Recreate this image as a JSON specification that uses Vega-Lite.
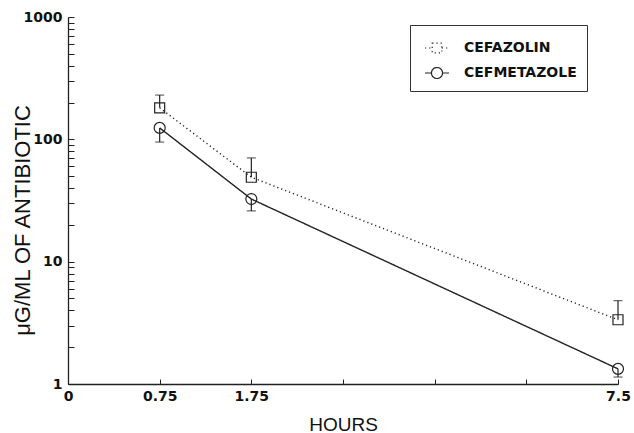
{
  "$schema": "https://vega.github.io/schema/vega-lite/v6.json",
  "width": 550,
  "height": 367,
  "autosize": {"type": "none"},
  "padding": {"left": 68, "top": 17, "right": 16, "bottom": 49},
  "background": "white",
  "config": {
    "view": {"stroke": null},
    "axis": {
      "grid": false,
      "domainColor": "#222",
      "domainWidth": 1.3,
      "tickColor": "#222",
      "tickWidth": 1,
      "labelFont": "DejaVu Sans",
      "labelFontWeight": "bold",
      "labelFontSize": 14,
      "labelColor": "#111",
      "titleFont": "Liberation Sans",
      "titleFontWeight": "normal",
      "titleColor": "#111"
    },
    "legend": {
      "title": null,
      "orient": "none",
      "legendX": 342,
      "legendY": 8,
      "strokeColor": "#333",
      "fillColor": "white",
      "padding": 10,
      "symbolSize": 576,
      "symbolStrokeColor": "#222",
      "symbolStrokeWidth": 1.2,
      "symbolFillColor": "transparent",
      "symbolOffset": 4,
      "labelFont": "DejaVu Sans",
      "labelFontWeight": "bold",
      "labelFontSize": 14,
      "labelColor": "#111",
      "labelOffset": 14,
      "rowPadding": 4
    }
  },
  "data": {
    "values": [
      {"drug": "CEFAZOLIN", "hours": 0.75, "mean": 181, "err": 230},
      {"drug": "CEFAZOLIN", "hours": 1.75, "mean": 49, "err": 70.5},
      {"drug": "CEFAZOLIN", "hours": 7.5, "mean": 3.35, "err": 4.8},
      {"drug": "CEFMETAZOLE", "hours": 0.75, "mean": 124, "err": 95},
      {"drug": "CEFMETAZOLE", "hours": 1.75, "mean": 32.5, "err": 26},
      {"drug": "CEFMETAZOLE", "hours": 7.5, "mean": 1.33, "err": 1.14}
    ]
  },
  "encoding": {
    "x": {
      "field": "hours",
      "type": "quantitative",
      "scale": {"domain": [0, 0.75, 1.75, 7.5], "range": [0, 91.67, 183.33, 550], "zero": false, "nice": false},
      "axis": {
        "title": "HOURS",
        "titleFontSize": 19,
        "titleY": 40,
        "titleBaseline": "middle",
        "values": [0, 0.75, 1.75, 3.1875, 4.625, 6.0625, 7.5],
        "format": ".2~f",
        "labelExpr": "indexof([0, 0.75, 1.75, 7.5], datum.value) >= 0 ? datum.label : ''",
        "tickSize": -5,
        "labelPadding": 10,
        "labelFlush": false
      }
    },
    "y": {
      "field": "mean",
      "type": "quantitative",
      "scale": {"type": "log", "domain": [1, 1000], "nice": false},
      "axis": {
        "title": "μG/ML OF ANTIBIOTIC",
        "titleFontSize": 22,
        "titleX": -46,
        "titleY": 203,
        "titleAngle": -90,
        "titleAlign": "center",
        "titleBaseline": "middle",
        "values": [1, 2, 3, 4, 5, 6, 7, 8, 9, 10, 20, 30, 40, 50, 60, 70, 80, 90, 100, 200, 300, 400, 500, 600, 700, 800, 900, 1000],
        "labelExpr": "indexof([1, 10, 100, 1000], datum.value) >= 0 ? datum.label : ''",
        "format": "d",
        "tickSize": -6,
        "labelPadding": 12,
        "labelFlush": false
      }
    }
  },
  "layer": [
    {
      "mark": {"type": "line", "color": "#222", "strokeWidth": 1.4},
      "encoding": {
        "strokeDash": {
          "field": "drug",
          "type": "nominal",
          "scale": {"domain": ["CEFAZOLIN", "CEFMETAZOLE"], "range": [[1.2, 3], [1, 0]]}
        }
      }
    },
    {
      "transform": [{"filter": "false"}],
      "mark": {"type": "point", "filled": false, "color": "#222", "strokeWidth": 1.2, "opacity": 1},
      "encoding": {
        "shape": {
          "field": "drug",
          "type": "nominal",
          "scale": {"domain": ["CEFAZOLIN", "CEFMETAZOLE"], "range": ["M-1,0H-0.4M0.4,0H1M-0.4,-0.4H0.4V0.4H-0.4Z", "M-1,0H-0.46A0.46,0.46,0,1,1,0.46,0A0.46,0.46,0,1,1,-0.46,0M0.46,0H1"]}
        },
        "strokeDash": {"field": "drug", "type": "nominal"}
      }
    },
    {
      "mark": {"type": "rule", "color": "#222", "strokeWidth": 1.2},
      "encoding": {"y2": {"field": "err"}}
    },
    {
      "mark": {"type": "tick", "orient": "horizontal", "size": 9, "thickness": 1.2, "color": "#222"},
      "encoding": {"y": {"field": "err", "type": "quantitative"}}
    },
    {
      "transform": [{"filter": "datum.drug === 'CEFAZOLIN'"}],
      "mark": {"type": "point", "shape": "square", "size": 100, "filled": false, "color": "#222", "strokeWidth": 1.2, "opacity": 1},
      "encoding": {}
    },
    {
      "transform": [{"filter": "datum.drug === 'CEFMETAZOLE'"}],
      "mark": {"type": "point", "shape": "circle", "size": 121, "filled": false, "color": "#222", "strokeWidth": 1.2, "opacity": 1},
      "encoding": {}
    }
  ]
}
